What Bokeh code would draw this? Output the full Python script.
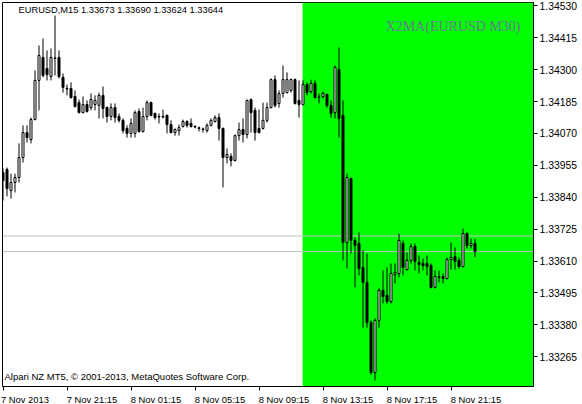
from bokeh.plotting import figure
from bokeh.models import (ColumnDataSource, Range1d, FixedTicker, PrintfTickFormatter,
                          BoxAnnotation, Span, Label)
from bokeh.embed import file_html
from bokeh.resources import INLINE

# ---------------- data ----------------
header = "EURUSD,M15  1.33673 1.33690 1.33624 1.33644"
indicator_name = "X2MA(EURUSD M30)"
copyright_text = "Alpari NZ MT5, \u00a9 2001-2013, MetaQuotes Software Corp."

time_labels = ["7 Nov 2013", "7 Nov 21:15", "8 Nov 01:15", "8 Nov 05:15",
               "8 Nov 09:15", "8 Nov 13:15", "8 Nov 17:15", "8 Nov 21:15"]
time_label_bars = [0, 16, 32, 48, 64, 80, 96, 112]

price_ticks = [1.34530, 1.34415, 1.34300, 1.34185, 1.34070, 1.33955,
               1.33840, 1.33725, 1.33610, 1.33495, 1.33380, 1.33265]
price_lines = [1.33700, 1.33644]
highlight_from_bar = 74.9

opens = [1.33929, 1.33940, 1.33864, 1.33893, 1.33911, 1.33983, 1.34073, 1.34048, 1.34120, 1.34261,
         1.34344, 1.34304, 1.34275, 1.34340, 1.34344, 1.34272, 1.34232, 1.34232, 1.34203, 1.34181,
         1.34145, 1.34174, 1.34163, 1.34174, 1.34171, 1.34207, 1.34163, 1.34131, 1.34163, 1.34131,
         1.34117, 1.34088, 1.34070, 1.34070, 1.34149, 1.34077, 1.34131, 1.34181, 1.34142, 1.34131,
         1.34129, 1.34135, 1.34102, 1.34073, 1.34080, 1.34095, 1.34113, 1.34106, 1.34095, 1.34090,
         1.34086, 1.34080, 1.34099, 1.34113, 1.34127, 1.34088, 1.33983, 1.33987, 1.33972, 1.34062,
         1.34084, 1.34066, 1.34192, 1.34153, 1.34088, 1.34088, 1.34117, 1.34163, 1.34264, 1.34178,
         1.34214, 1.34217, 1.34225, 1.34264, 1.34189, 1.34174, 1.34246, 1.34221, 1.34250, 1.34201,
         1.34203, 1.34210, 1.34171, 1.34145, 1.34300, 1.34135, 1.33677, 1.33907, 1.33684, 1.33673,
         1.33587, 1.33533, 1.33388, 1.33208, 1.33396, 1.33504, 1.33486, 1.33464, 1.33561, 1.33565,
         1.33673, 1.33579, 1.33612, 1.33662, 1.33605, 1.33601, 1.33601, 1.33594, 1.33515, 1.33554,
         1.33554, 1.33547, 1.33615, 1.33626, 1.33612, 1.33590, 1.33709, 1.33666, 1.33673]

highs = [1.33944, 1.33947, 1.33925, 1.33925, 1.34034, 1.34099, 1.34099, 1.34127, 1.34297, 1.34387,
         1.34412, 1.34369, 1.34376, 1.34495, 1.34369, 1.34286, 1.34246, 1.34254, 1.34225, 1.34192,
         1.34203, 1.34189, 1.34214, 1.34207, 1.34217, 1.34239, 1.34167, 1.34178, 1.34178, 1.34142,
         1.34124, 1.34099, 1.34124, 1.34153, 1.34160, 1.34163, 1.34189, 1.34185, 1.34145, 1.34142,
         1.34156, 1.34138, 1.34117, 1.34088, 1.34102, 1.34120, 1.34117, 1.34124, 1.34099, 1.34095,
         1.34091, 1.34106, 1.34124, 1.34135, 1.34142, 1.34091, 1.34016, 1.33998, 1.34066, 1.34109,
         1.34124, 1.34192, 1.34196, 1.34163, 1.34156, 1.34181, 1.34181, 1.34268, 1.34279, 1.34225,
         1.34315, 1.34290, 1.34268, 1.34268, 1.34261, 1.34261, 1.34254, 1.34264, 1.34261, 1.34214,
         1.34221, 1.34214, 1.34189, 1.34315, 1.34380, 1.34189, 1.33925, 1.33911, 1.33695, 1.33713,
         1.33648, 1.33637, 1.33396, 1.33403, 1.33511, 1.33576, 1.33587, 1.33601, 1.33601, 1.33709,
         1.33684, 1.33641, 1.33673, 1.33673, 1.33630, 1.33619, 1.33630, 1.33601, 1.33576, 1.33576,
         1.33565, 1.33623, 1.33677, 1.33659, 1.33623, 1.33727, 1.33713, 1.33691, 1.33690]

lows = [1.33828, 1.33843, 1.33835, 1.33857, 1.33893, 1.33965, 1.34037, 1.34034, 1.34117, 1.34153,
        1.34272, 1.34261, 1.34261, 1.34279, 1.34268, 1.34217, 1.34207, 1.34196, 1.34163, 1.34142,
        1.34142, 1.34145, 1.34153, 1.34153, 1.34124, 1.34124, 1.34109, 1.34117, 1.34109, 1.34109,
        1.34070, 1.34055, 1.34055, 1.34055, 1.34073, 1.34073, 1.34117, 1.34131, 1.34120, 1.34106,
        1.34124, 1.34070, 1.34070, 1.34062, 1.34062, 1.34091, 1.34091, 1.34091, 1.34088, 1.34077,
        1.34073, 1.34073, 1.34095, 1.34109, 1.34044, 1.33875, 1.33962, 1.33951, 1.33969, 1.34044,
        1.34037, 1.34052, 1.34073, 1.34044, 1.34070, 1.34084, 1.34109, 1.34160, 1.34163, 1.34163,
        1.34199, 1.34214, 1.34217, 1.34174, 1.34127, 1.34171, 1.34207, 1.34214, 1.34196, 1.34178,
        1.34196, 1.34163, 1.34127, 1.34124, 1.34055, 1.33612, 1.33583, 1.33637, 1.33515, 1.33558,
        1.33370, 1.33370, 1.33201, 1.33179, 1.33370, 1.33457, 1.33457, 1.33457, 1.33529, 1.33551,
        1.33558, 1.33576, 1.33601, 1.33576, 1.33565, 1.33576, 1.33558, 1.33511, 1.33511, 1.33533,
        1.33529, 1.33543, 1.33579, 1.33579, 1.33583, 1.33587, 1.33655, 1.33655, 1.33624]

closes = [1.33900, 1.33871, 1.33893, 1.33911, 1.33983, 1.34073, 1.34055, 1.34120, 1.34261, 1.34351,
          1.34279, 1.34282, 1.34344, 1.34342, 1.34275, 1.34236, 1.34230, 1.34199, 1.34167, 1.34145,
          1.34174, 1.34149, 1.34192, 1.34189, 1.34207, 1.34160, 1.34131, 1.34163, 1.34127, 1.34117,
          1.34080, 1.34070, 1.34106, 1.34145, 1.34077, 1.34131, 1.34181, 1.34135, 1.34127, 1.34129,
          1.34131, 1.34102, 1.34073, 1.34084, 1.34091, 1.34113, 1.34099, 1.34095, 1.34093, 1.34088,
          1.34084, 1.34099, 1.34117, 1.34127, 1.34088, 1.33983, 1.33994, 1.33972, 1.34062, 1.34084,
          1.34066, 1.34189, 1.34145, 1.34073, 1.34073, 1.34117, 1.34163, 1.34264, 1.34171, 1.34214,
          1.34264, 1.34264, 1.34264, 1.34178, 1.34174, 1.34246, 1.34217, 1.34250, 1.34199, 1.34199,
          1.34214, 1.34171, 1.34142, 1.34308, 1.34124, 1.33677, 1.33911, 1.33684, 1.33666, 1.33583,
          1.33533, 1.33388, 1.33208, 1.33396, 1.33504, 1.33482, 1.33464, 1.33565, 1.33569, 1.33684,
          1.33587, 1.33612, 1.33662, 1.33608, 1.33597, 1.33594, 1.33590, 1.33515, 1.33554, 1.33551,
          1.33547, 1.33615, 1.33623, 1.33608, 1.33590, 1.33709, 1.33666, 1.33673, 1.33644]

# ---------------- derived ----------------
bars = list(range(len(opens)))
tops = [max(o, c) for o, c in zip(opens, closes)]
bottoms = [min(o, c) for o, c in zip(opens, closes)]
fills = ["white" if c >= o else "black" for o, c in zip(opens, closes)]

src = ColumnDataSource(dict(x=bars, o=opens, h=highs, l=lows, c=closes,
                            top=tops, bottom=bottoms, fill=fills))

x0, x1 = -0.125, 132.625
y0, y1 = 1.331576, 1.345419
FW, FH = 531, 384

p = figure(frame_width=FW, frame_height=FH, output_backend="svg", toolbar_location=None,
           x_range=Range1d(x0, x1), y_range=Range1d(y0, y1), y_axis_location="right",
           min_border_left=2, min_border_top=2, min_border_bottom=17, min_border_right=0)
p.background_fill_color = "white"
p.border_fill_color = "white"
p.outline_line_color = "black"
p.outline_line_width = 1
p.xgrid.visible = False
p.ygrid.visible = False

# green highlight of the indicator
p.add_layout(BoxAnnotation(left=highlight_from_bar, fill_color="#00ff00", fill_alpha=1.0,
                           line_alpha=0, level="underlay"))
for pl in price_lines:
    p.add_layout(Span(location=pl, dimension="width", line_color="#c0c0c0",
                      line_width=1, level="underlay"))

# candles
p.segment(x0="x", y0="l", x1="x", y1="h", source=src, line_color="black", line_width=1)
p.vbar(x="x", width=0.5, top="top", bottom="bottom", source=src,
       fill_color="fill", line_color="black", line_width=1)

# y axis (right)
ya = p.yaxis[0]
ya.ticker = FixedTicker(ticks=price_ticks)
ya.formatter = PrintfTickFormatter(format="%.5f")
ya.axis_line_color = "black"
ya.major_tick_line_color = "black"
ya.major_tick_out = 4
ya.major_tick_in = 0
ya.minor_tick_line_color = None
ya.major_label_standoff = 2
ya.major_label_text_font = "Liberation Sans"
ya.major_label_text_font_size = "10.4px"
ya.major_label_text_color = "black"

# x axis (bottom): tick marks at the label times (minor ticks), texts start at the tick
label_shift = [5.5] + [6.25] * (len(time_label_bars) - 1)   # half text width, in bars
label_centers = [t + s for t, s in zip(time_label_bars, label_shift)]
xa = p.xaxis[0]
xa.ticker = FixedTicker(ticks=label_centers, minor_ticks=time_label_bars)
xa.major_label_overrides = {c: lab for c, lab in zip(label_centers, time_labels)}
xa.axis_line_color = "black"
xa.major_tick_line_color = None
xa.major_tick_out = 0
xa.major_tick_in = 0
xa.minor_tick_line_color = "black"
xa.minor_tick_out = 4
xa.minor_tick_in = 0
xa.major_label_standoff = 3
xa.major_label_text_font = "Liberation Sans"
xa.major_label_text_font_size = "9.4px"
xa.major_label_text_color = "black"

# header texts
p.add_layout(Label(x=3.875, y=1.34515, text=header, text_align="left", text_baseline="middle",
                   text_font="Liberation Sans", text_font_size="9.3px", text_color="black"))
p.add_layout(Label(x=129.375, y=1.34455, text=indicator_name, text_align="right",
                   text_baseline="middle", text_font="Liberation Serif", text_font_size="14px",
                   text_color="#667a8f"))
p.add_layout(Label(x=0.375, y=1.33194, text=copyright_text, text_align="left",
                   text_baseline="middle", text_font="Liberation Sans", text_font_size="9.5px",
                   text_color="black"))

open("out.html", "w").write(file_html(p, INLINE))
